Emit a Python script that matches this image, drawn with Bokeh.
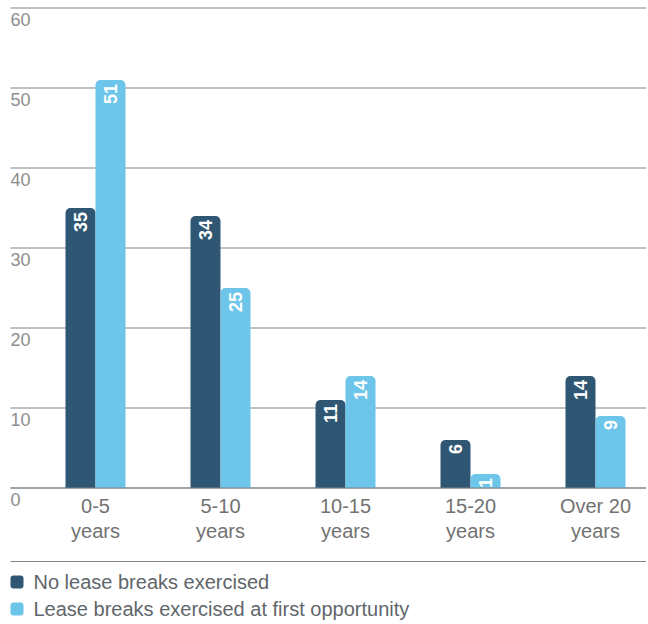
from math import pi
from bokeh.plotting import figure
from bokeh.models import ColumnDataSource, Range1d
from bokeh.core.properties import value
from bokeh.embed import file_html
from bokeh.resources import INLINE

# ---- data ----
categories = ["0-5 years", "5-10 years", "10-15 years", "15-20 years", "Over 20 years"]
label_line1 = ["0-5", "5-10", "10-15", "15-20", "Over 20"]
label_line2 = ["years", "years", "years", "years", "years"]
no_breaks = [35, 34, 11, 6, 14]
breaks_first = [51, 25, 14, 1, 9]
series_names = ["No lease breaks exercised", "Lease breaks exercised at first opportunity"]
y_ticks = [0, 10, 20, 30, 40, 50, 60]

# ---- style ----
DARK = "#2f5773"
LIGHT = "#6dc5ea"
GRID = "#7b868e"
FONT = "Liberation Sans"
W, H = 646, 622
ORG = 0        # page offset of the canvas
PX_X = 125.0   # pixels per category
PX_Y = 8.0     # pixels per unit
MIN_BAR = 1.75  # minimum visible bar height (units)

x0 = -(95.0 - ORG) / PX_X
x1 = x0 + W / PX_X
y1 = 60 + (7.5 - ORG) / PX_Y
y0 = y1 - H / PX_Y


def ypx(page_y):
    return y1 - (page_y - ORG) / PX_Y


def xpx(page_x):
    return x0 + (page_x - ORG) / PX_X


p = figure(width=W, height=H, output_backend="svg", toolbar_location=None,
           x_range=Range1d(x0, x1), y_range=Range1d(y0, y1),
           x_axis_location=None, y_axis_location=None, min_border=0,
           outline_line_color=None, background_fill_color="white",
           border_fill_color="white")
p.xgrid.visible = False
p.ygrid.visible = False

gx0 = xpx(10)
# gridlines
p.segment(x0=[gx0] * len(y_ticks), x1=[x1] * len(y_ticks), y0=y_ticks, y1=y_ticks,
          line_color=GRID, line_width=1.2)
# y tick labels
p.text(x=[gx0] * len(y_ticks), y=y_ticks, text=[str(t) for t in y_ticks],
       text_font=value(FONT), text_font_size="18px", text_color="#8e8e8e",
       text_align="left", text_baseline="top", y_offset=5)

idx = list(range(len(categories)))
off = 15.0 / PX_X
bw = 30.0 / PX_X

src = ColumnDataSource(dict(
    xa=[i - off for i in idx], xb=[i + off for i in idx],
    ta=[max(v, MIN_BAR) for v in no_breaks], tb=[max(v, MIN_BAR) for v in breaks_first],
    la=[str(v) for v in no_breaks], lb=[str(v) for v in breaks_first],
))

p.vbar(x="xa", top="ta", bottom=0, width=bw, source=src, fill_color=DARK,
       line_color=None, border_radius=(5, 5, 0, 0))
p.vbar(x="xb", top="tb", bottom=0, width=bw, source=src, fill_color=LIGHT,
       line_color=None, border_radius=(5, 5, 0, 0))

# baseline on top of bars
p.segment(x0=[gx0], x1=[x1], y0=[0], y1=[0], line_color=GRID, line_width=1.2)

for xs, ts, ls in (("xa", "ta", "la"), ("xb", "tb", "lb")):
    p.text(x=xs, y=ts, text=ls, source=src, angle=pi / 2,
           text_font=value(FONT), text_font_style="bold", text_font_size="18px",
           text_color="white", text_align="right", text_baseline="middle",
           y_offset=4)

# category labels
p.text(x=idx, y=[ypx(505)] * len(idx), text=label_line1,
       text_font=value(FONT), text_font_size="20px", text_color="#727272",
       text_align="center", text_baseline="middle")
p.text(x=idx, y=[ypx(530)] * len(idx), text=label_line2,
       text_font=value(FONT), text_font_size="20px", text_color="#727272",
       text_align="center", text_baseline="middle")

# legend
p.segment(x0=[gx0], x1=[x1], y0=[ypx(561)], y1=[ypx(561)], line_color=GRID, line_width=1.2)
leg_y = [ypx(581.5), ypx(608.5)]
p.rect(x=[xpx(16.5)] * 2, y=leg_y, width=13, height=13,
       width_units="screen", height_units="screen",
       fill_color=[DARK, LIGHT], line_color=None, border_radius=3)
p.text(x=[xpx(33)] * 2, y=leg_y, text=series_names,
       text_font=value(FONT), text_font_size="20px", text_color="#60666a",
       text_align="left", text_baseline="middle")

open("out.html", "w").write(file_html(p, INLINE))
